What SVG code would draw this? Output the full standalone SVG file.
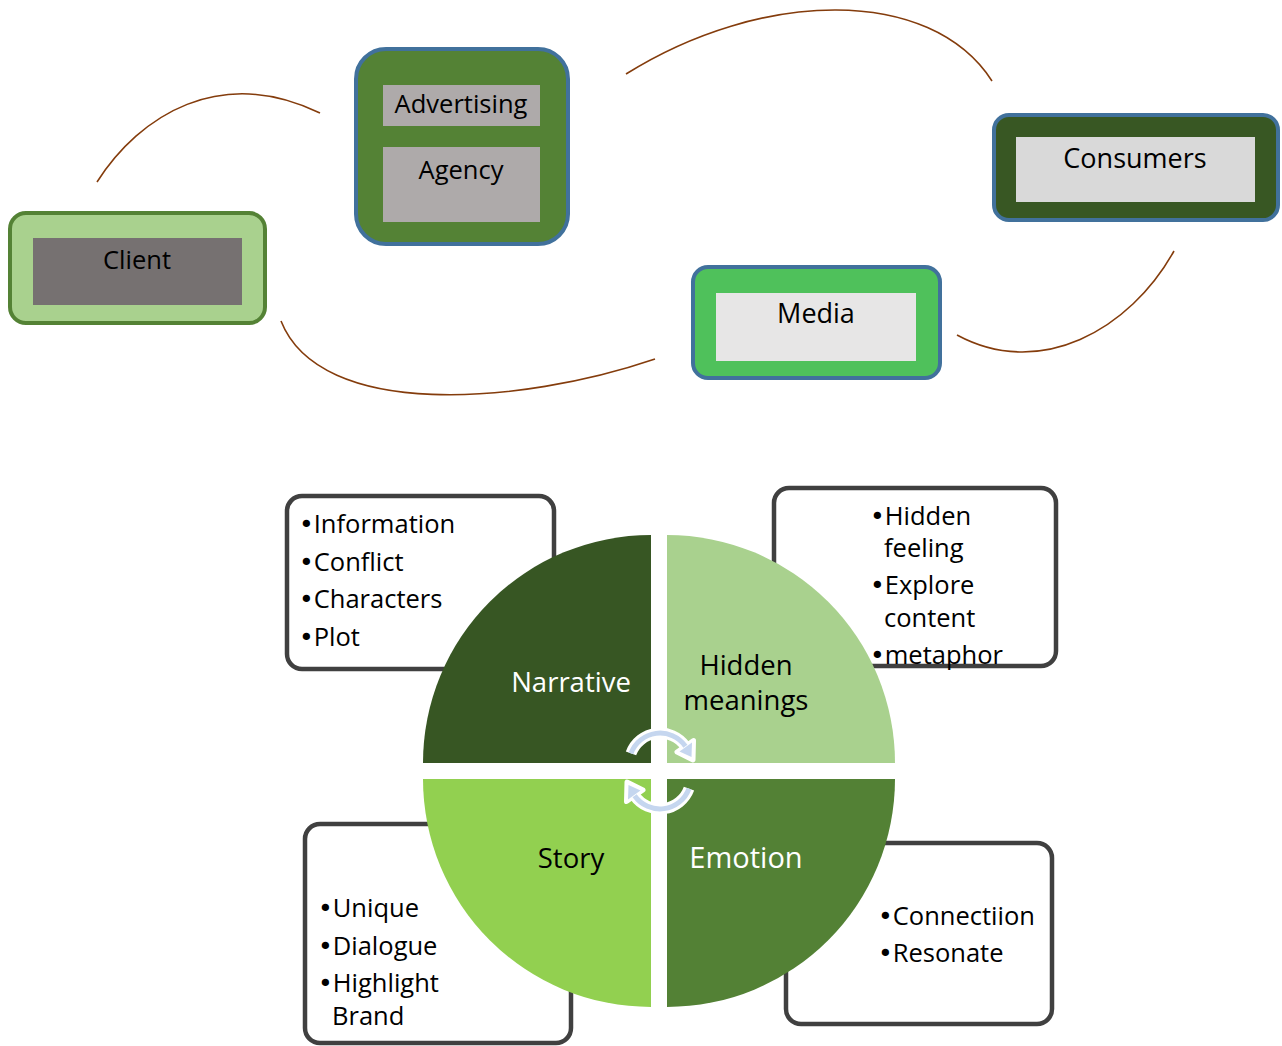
<svg xmlns="http://www.w3.org/2000/svg" width="1282" height="1046" viewBox="0 0 1282 1046">
<defs>
<style>
text{font-family:"Open Sans","Liberation Sans",sans-serif;fill:#000}
.lbl{font-size:25.5px;text-anchor:middle}
.lbl2{font-size:27px;text-anchor:middle}
.bul{font-size:25.5px}
.b{font-family:"DejaVu Sans",sans-serif;font-size:25px}
.q{font-size:27.5px;text-anchor:middle}
.conn{fill:none;stroke:#843c0c;stroke-width:1.6}
.tb{fill:#fff;stroke:#404040;stroke-width:4.5}
.arcw{fill:none;stroke:#fff;stroke-width:11}
.arcb{fill:none;stroke:#c5d6ef;stroke-width:5}
</style>
</defs>
<rect width="1282" height="1046" fill="#fff"/>
<g id="connectors">
<path class="conn" d="M97,182 C140,115 220,65 320,113"/>
<path class="conn" d="M626,74 C760,-10 930,-15 992,81"/>
<path class="conn" d="M1174,251 C1130,330 1040,380 957,335"/>
<path class="conn" d="M281,321 C320,420 520,405 655,359"/>
</g>
<g id="client">
<rect x="10" y="213" width="255" height="110" rx="16" fill="#a9d18e" stroke="#548235" stroke-width="4"/>
<rect x="33" y="238" width="209" height="67" fill="#767171"/>
<text class="lbl" x="137" y="269">Client</text>
</g>
<g id="agency">
<rect x="356" y="49" width="212" height="195" rx="30" fill="#548235" stroke="#41719c" stroke-width="4"/>
<rect x="383" y="85" width="157" height="41" fill="#aeaaaa"/>
<rect x="383" y="147" width="157" height="75" fill="#aeaaaa"/>
<text class="lbl" x="461" y="113">Advertising</text>
<text class="lbl" x="461" y="179">Agency</text>
</g>
<g id="consumers">
<rect x="994" y="115" width="284" height="105" rx="15" fill="#385723" stroke="#41719c" stroke-width="4"/>
<rect x="1016" y="137" width="239" height="65" fill="#d9d9d9"/>
<text class="lbl2" x="1135" y="168">Consumers</text>
</g>
<g id="media">
<rect x="693" y="267" width="247" height="111" rx="15" fill="#4fc15b" stroke="#41719c" stroke-width="4"/>
<rect x="716" y="293" width="200" height="68" fill="#e7e6e6"/>
<text class="lbl2" x="816" y="323">Media</text>
</g>
<g id="box-narrative">
<rect class="tb" x="287" y="496" width="267" height="173" rx="15"/>
</g>
<g id="box-hidden">
<rect class="tb" x="774" y="488" width="282" height="178" rx="15"/>
</g>
<g id="box-story">
<rect class="tb" x="305" y="824" width="266" height="219" rx="15"/>
</g>
<g id="box-emotion">
<rect class="tb" x="786" y="843" width="266" height="181" rx="15"/>
</g>
<g id="quad-narrative">
<path d="M651,763 L423,763 A228,228 0 0 1 651,535 Z" fill="#375623"/>
<text class="q" x="571" y="692" style="fill:#fff">Narrative</text>
</g>
<g id="quad-hidden">
<path d="M667,763 L667,535 A228,228 0 0 1 895,763 Z" fill="#a9d18e"/>
<text class="q" x="746" y="675">Hidden</text>
<text class="q" x="746" y="710">meanings</text>
</g>
<g id="quad-story">
<path d="M651,779 L651,1007 A228,228 0 0 1 423,779 Z" fill="#92d050"/>
<text class="q" x="571" y="868">Story</text>
</g>
<g id="quad-emotion">
<path d="M667,779 L895,779 A228,228 0 0 1 667,1007 Z" fill="#538135"/>
<text class="q" x="746" y="868" style="fill:#fff;font-size:29px">Emotion</text>
</g>
<g id="cycle-arrows">
<g id="arrow-top">
<path class="arcw" d="M631,753.4 A31,31 0 0 1 685.4,746.2"/>
<polygon points="693.5,740.5 677,752 693,760" fill="#fff" stroke="#fff" stroke-width="5" stroke-linejoin="round"/>
<path class="arcb" d="M631,753.4 A31,31 0 0 1 685.4,746.2"/>
<polygon points="692,742.5 679.5,751.5 691.5,757" fill="#c5d6ef"/>
</g>
<g id="arrow-bottom" transform="rotate(180 660 771)">
<path class="arcw" d="M631,753.4 A31,31 0 0 1 685.4,746.2"/>
<polygon points="693.5,740.5 677,752 693,760" fill="#fff" stroke="#fff" stroke-width="5" stroke-linejoin="round"/>
<path class="arcb" d="M631,753.4 A31,31 0 0 1 685.4,746.2"/>
<polygon points="692,742.5 679.5,751.5 691.5,757" fill="#c5d6ef"/>
</g>
</g>
<g id="text-narrative">
<text class="bul" x="299" y="533"><tspan class="b">•</tspan>Information</text>
<text class="bul" x="299" y="571"><tspan class="b">•</tspan>Conflict</text>
<text class="bul" x="299" y="608"><tspan class="b">•</tspan>Characters</text>
<text class="bul" x="299" y="646"><tspan class="b">•</tspan>Plot</text>
</g>
<g id="text-hidden">
<text class="bul" x="870" y="525"><tspan class="b">•</tspan>Hidden</text>
<text class="bul" x="884" y="557">feeling</text>
<text class="bul" x="870" y="594"><tspan class="b">•</tspan>Explore</text>
<text class="bul" x="884" y="627">content</text>
<text class="bul" x="870" y="664"><tspan class="b">•</tspan>metaphor</text>
</g>
<g id="text-story">
<text class="bul" x="318" y="917"><tspan class="b">•</tspan>Unique</text>
<text class="bul" x="318" y="955"><tspan class="b">•</tspan>Dialogue</text>
<text class="bul" x="318" y="992"><tspan class="b">•</tspan>Highlight</text>
<text class="bul" x="332" y="1025">Brand</text>
</g>
<g id="text-emotion">
<text class="bul" x="878" y="925"><tspan class="b">•</tspan>Connectiion</text>
<text class="bul" x="878" y="962"><tspan class="b">•</tspan>Resonate</text>
</g>
</svg>
